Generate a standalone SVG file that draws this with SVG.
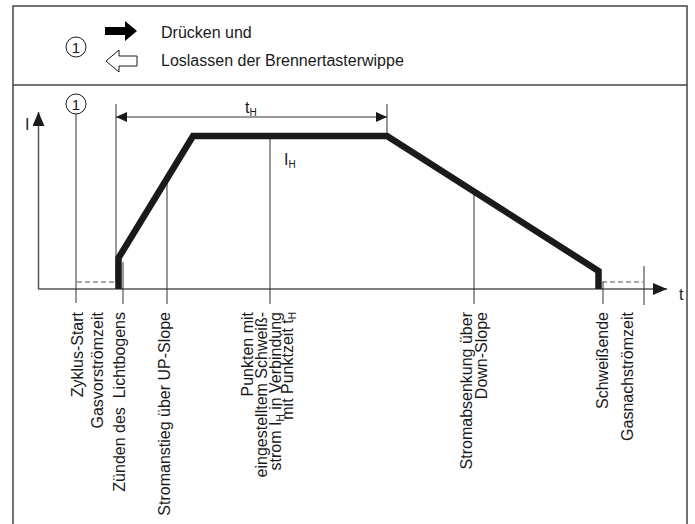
<svg xmlns="http://www.w3.org/2000/svg" width="695" height="524" viewBox="0 0 695 524">
<defs>
<style>
text{font-family:"Liberation Sans",Arial,sans-serif;font-size:16px;fill:#1a1a1a}
.frame{fill:none;stroke:#444;stroke-width:1.5}
.thin{fill:none;stroke:#333;stroke-width:1}
.axis{fill:none;stroke:#555;stroke-width:1.5}
.dash{fill:none;stroke:#555;stroke-width:1.2;stroke-dasharray:5,3}
.curve{fill:none;stroke:#1a1a1a;stroke-width:6.5;stroke-linejoin:miter}
.lbl{text-anchor:end}
.sub{font-size:10px}
</style>
<marker id="ah" viewBox="0 0 14 12" refX="14" refY="6" markerWidth="14" markerHeight="12" markerUnits="userSpaceOnUse" orient="auto">
<path d="M0,0 L14,6 L0,12 Z" fill="#1a1a1a"/>
</marker>
<marker id="ahs" viewBox="0 0 11 10" refX="11" refY="5" markerWidth="11" markerHeight="10" markerUnits="userSpaceOnUse" orient="auto-start-reverse">
<path d="M0,0 L11,5 L0,10 Z" fill="#1a1a1a"/>
</marker>
</defs>
<rect width="695" height="524" fill="#fff"/>
<g id="frame">
<rect class="frame" x="13" y="6" width="674" height="540"/>
<line class="frame" x1="13" y1="85" x2="687" y2="85"/>
</g>
<g id="legend">
<circle cx="76" cy="47" r="10" fill="none" stroke="#1a1a1a" stroke-width="1"/>
<text x="76" y="52.5" text-anchor="middle" style="font-size:15px">1</text>
<polygon points="105,27 125,27 125,21 137,31 125,41 125,35 105,35" fill="#000"/>
<polygon points="137,56 119,56 119,50 106,61 119,72 119,66 137,66" fill="#fff" stroke="#1a1a1a" stroke-width="1"/>
<text x="161" y="37.5">Drücken und</text>
<text x="161" y="66">Loslassen der Brennertasterwippe</text>
</g>
<g id="connectors">
<line class="axis" x1="38.5" y1="289" x2="38.5" y2="112" marker-end="url(#ah)"/>
<line class="axis" x1="38" y1="289" x2="667" y2="289" marker-end="url(#ah)"/>
<line class="thin" x1="76" y1="113.5" x2="76" y2="303"/>
<line class="thin" x1="116" y1="104" x2="116" y2="282"/>
<line class="thin" x1="387" y1="104" x2="387" y2="135"/>
<line class="thin" x1="116" y1="117" x2="387" y2="117" marker-start="url(#ahs)" marker-end="url(#ahs)"/>
<line class="thin" x1="123" y1="262" x2="123" y2="304"/>
<line class="thin" x1="167" y1="178" x2="167" y2="304"/>
<line class="thin" x1="270" y1="136" x2="270" y2="304"/>
<line class="thin" x1="474" y1="191" x2="474" y2="304"/>
<line class="thin" x1="603" y1="282" x2="603" y2="304"/>
<line class="thin" x1="644" y1="266" x2="644" y2="305"/>
<line class="dash" x1="77" y1="282" x2="116" y2="282"/>
<line class="dash" x1="602" y1="282" x2="643" y2="282"/>
<polyline class="curve" points="118.5,289 118.5,258 193,136 387,136 598.5,271 598.5,289"/>
</g>
<g id="graph-labels">
<circle cx="76" cy="104" r="10" fill="#fff" stroke="#1a1a1a" stroke-width="1"/>
<text x="76" y="109.5" text-anchor="middle" style="font-size:15px">1</text>
<text x="25" y="130">I</text>
<text x="679" y="300">t</text>
<text x="245" y="113">t<tspan class="sub" dy="3">H</tspan></text>
<text x="284" y="165">I<tspan class="sub" dy="3">H</tspan></text>
</g>
<g id="event-labels">
<text class="lbl" transform="translate(83,312) rotate(-90)">Zyklus-Start</text>
<text class="lbl" transform="translate(103,312) rotate(-90)">Gasvorströmzeit</text>
<text class="lbl" transform="translate(125,312) rotate(-90)">Zünden des&#160; Lichtbogens</text>
<text class="lbl" transform="translate(170,312) rotate(-90)">Stromanstieg über UP-Slope</text>
<text class="lbl" transform="translate(253,312) rotate(-90)">Punkten mit</text>
<text class="lbl" transform="translate(267,312) rotate(-90)">eingestelltem Schweiß-</text>
<text class="lbl" transform="translate(281,312) rotate(-90)">strom I<tspan class="sub" dy="3">H</tspan><tspan dy="-3"> in Verbindung</tspan></text>
<text class="lbl" transform="translate(293,312) rotate(-90)">mit Punktzeit t<tspan class="sub" dy="3">H</tspan></text>
<text class="lbl" transform="translate(472,312) rotate(-90)">Stromabsenkung über</text>
<text class="lbl" transform="translate(487,312) rotate(-90)">Down-Slope</text>
<text class="lbl" transform="translate(608,312) rotate(-90)">Schweißende</text>
<text class="lbl" transform="translate(633,312) rotate(-90)">Gasnachströmzeit</text>
</g>
</svg>
